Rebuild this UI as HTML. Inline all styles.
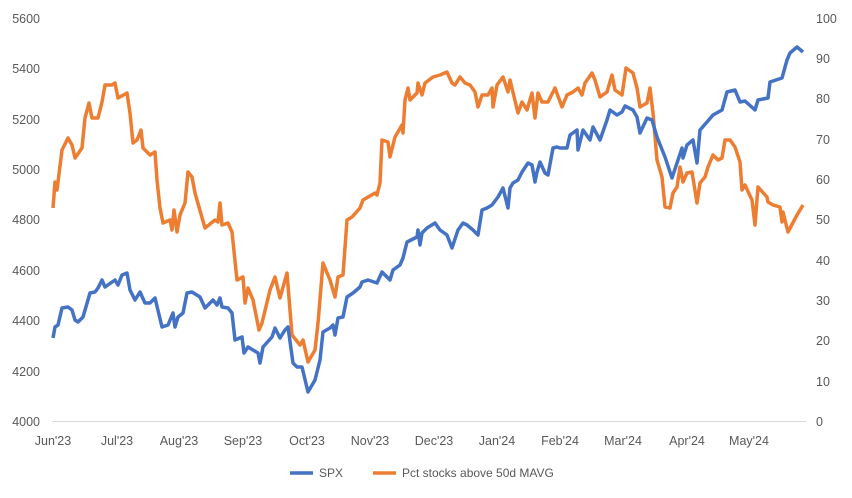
<!DOCTYPE html>
<html><head><meta charset="utf-8"><style>
body{margin:0;background:#fff;}
svg{display:block;font-family:"Liberation Sans",Arial,sans-serif;}
text{fill:#595959;font-size:12.5px;}
</style></head><body>
<svg width="852" height="498" viewBox="0 0 852 498">
<line x1="52" y1="421.5" x2="806" y2="421.5" stroke="#d9d9d9" stroke-width="1"/>
<g text-anchor="end">
<text x="40" y="426">4000</text><text x="40" y="376">4200</text><text x="40" y="325">4400</text><text x="40" y="275">4600</text><text x="40" y="224">4800</text><text x="40" y="174">5000</text><text x="40" y="124">5200</text><text x="40" y="73">5400</text><text x="40" y="23">5600</text>
</g>
<g text-anchor="start">
<text x="816" y="426">0</text><text x="816" y="386">10</text><text x="816" y="345">20</text><text x="816" y="305">30</text><text x="816" y="265">40</text><text x="816" y="224">50</text><text x="816" y="184">60</text><text x="816" y="144">70</text><text x="816" y="103">80</text><text x="816" y="63">90</text><text x="816" y="23">100</text>
</g>
<g text-anchor="middle">
<text x="53" y="445">Jun'23</text><text x="117" y="445">Jul'23</text><text x="179" y="445">Aug'23</text><text x="243" y="445">Sep'23</text><text x="307" y="445">Oct'23</text><text x="370" y="445">Nov'23</text><text x="434" y="445">Dec'23</text><text x="497" y="445">Jan'24</text><text x="560" y="445">Feb'24</text><text x="623" y="445">Mar'24</text><text x="687" y="445">Apr'24</text><text x="749" y="445">May'24</text>
</g>
<polyline fill="none" stroke="#ed7d31" stroke-width="3.5" stroke-linejoin="round" points="53,208 55,182 57,190 62,150 68,138 72,145 75,158 82,148 85,118 89,103 92,118 98,118 102,102 105,85 112,85 115,83 118,98 127,93 130,113 133,143 137,140 141,130 143,148 150,155 155,152 157,180 160,208 163,223 170,220 172,230 174,210 177,232 180,215 185,203 188,172 192,177 195,193 205,228 215,220 218,222 220,203 222,225 228,223 232,232 237,280 243,277 245,303 248,288 253,300 259,330 262,323 270,290 275,277 280,298 287,273 292,335 300,345 303,340 308,362 315,350 318,323 323,263 330,280 335,297 338,277 343,275 347,220 352,217 360,208 363,200 375,193 377,195 380,183 382,140 388,142 390,157 395,137 402,125 403,133 405,100 408,88 410,100 417,93 418,83 422,95 425,83 433,77 440,75 447,72 452,83 455,85 460,77 465,83 470,85 475,92 478,107 482,95 488,95 492,88 493,107 497,85 503,77 508,92 510,80 518,113 522,102 527,110 532,93 535,118 538,93 542,102 548,102 555,88 562,107 567,95 573,92 578,88 582,95 585,83 592,73 595,80 600,97 607,92 612,75 615,90 622,95 626,68 633,73 637,88 640,107 647,103 650,88 653,113 657,160 662,177 665,207 670,208 673,193 677,187 680,167 683,182 687,173 692,172 697,203 700,183 705,177 708,167 713,155 718,160 722,158 725,140 730,140 735,147 740,162 742,190 745,185 752,200 755,225 758,187 767,197 768,202 773,205 780,207 782,222 783,212 788,232 797,215 803,205"/>
<polyline fill="none" stroke="#4472c4" stroke-width="3.5" stroke-linejoin="round" points="53,338 55,327 58,325 62,308 68,307 72,310 75,320 78,322 83,317 90,293 95,292 98,288 102,280 105,287 115,280 118,285 122,275 127,273 130,290 135,300 140,292 145,303 150,303 155,298 162,327 168,325 173,313 175,327 178,317 183,313 187,293 192,292 200,297 205,308 213,300 217,305 220,298 222,307 228,308 232,313 235,340 242,337 244,353 248,347 253,350 258,353 260,363 263,347 272,337 275,328 280,338 285,330 288,327 293,363 297,367 302,367 308,392 315,380 320,360 323,332 330,328 333,325 335,335 338,318 343,317 347,297 353,293 360,287 362,282 368,280 377,283 382,272 390,280 393,270 400,265 403,258 407,242 417,237 418,230 420,245 422,233 427,228 435,223 440,230 447,235 452,248 458,230 463,223 467,225 473,230 478,235 482,210 487,208 492,205 498,197 503,188 508,208 510,188 513,183 518,180 522,172 528,163 532,165 535,182 537,172 540,162 545,173 548,175 553,148 557,147 560,148 567,148 570,135 577,130 578,150 583,130 590,140 593,127 600,140 607,120 610,110 617,115 622,112 625,106 633,110 637,117 640,133 647,118 652,120 657,137 665,157 672,178 682,148 683,158 687,145 693,140 697,163 700,130 707,122 713,115 722,110 727,92 735,90 740,102 745,101 755,110 758,100 768,98 770,82 782,78 787,60 790,53 797,47 803,52"/>
<line x1="290" y1="473" x2="313" y2="473" stroke="#4472c4" stroke-width="3.5"/>
<text x="319" y="477" style="font-size:12px">SPX</text>
<line x1="373" y1="473" x2="396" y2="473" stroke="#ed7d31" stroke-width="3.5"/>
<text x="402" y="477" style="font-size:12px">Pct stocks above 50d MAVG</text>
</svg>
</body></html>
